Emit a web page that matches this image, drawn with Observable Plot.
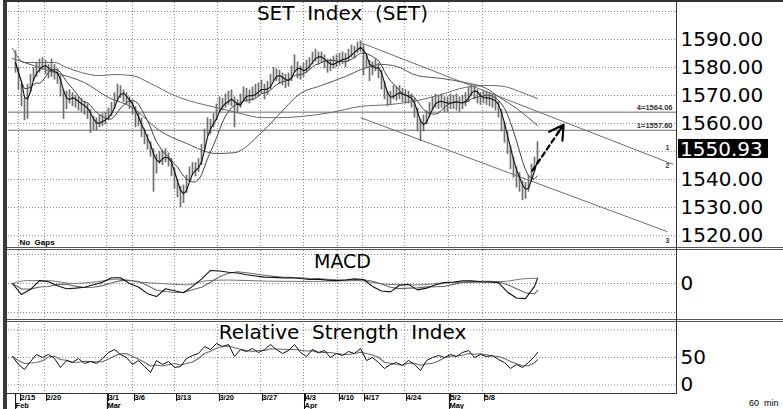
<!DOCTYPE html>
<html><head><meta charset="utf-8">
<script src="https://cdn.jsdelivr.net/npm/d3@7"></script>
<script src="https://cdn.jsdelivr.net/npm/@observablehq/plot@0.6"></script>
<style>
body{margin:0;background:#fff;}
#chart{position:relative;width:783px;height:409px;overflow:hidden;background:#fff;}
#chart svg{position:absolute;left:0;display:block;overflow:visible;}
#chart svg text{white-space:pre;}
.deco{position:absolute;background:#333;}
</style></head><body><div id="chart"></div>
<script>
// ---------- DATA ----------
const closeVals = [1581.8,1574.6,1568.2,1565.4,1572.5,1576.1,1578.2,1579.3,1580.4,1581.4,
1580.0,1578.2,1578.9,1578.6,1576.8,1571.8,1566.8,1568.9,1570.0,1568.6,
1567.9,1567.1,1566.4,1565.7,1564.6,1561.1,1559.6,1560.0,1560.7,1561.4,
1561.8,1563.2,1565.4,1568.2,1571.8,1571.1,1569.6,1568.6,1567.1,1565.4,
1561.1,1561.1,1557.1,1554.6,1552.9,1550.4,1543.9,1546.8,1547.9,1547.5,
1548.6,1546.8,1543.2,1538.9,1536.4,1533.2,1535.4,1539.6,1542.5,1543.9,
1543.6,1545.0,1550.4,1555.7,1559.3,1559.3,1561.1,1564.6,1566.8,1566.8,
1567.9,1568.9,1569.3,1565.4,1566.1,1568.2,1570.7,1570.0,1569.3,1570.4,
1571.4,1572.1,1572.9,1571.4,1572.5,1575.4,1577.5,1577.5,1576.4,1575.7,
1575.0,1575.4,1578.2,1581.8,1578.9,1578.2,1579.3,1580.4,1581.4,1583.6,
1584.6,1583.2,1583.6,1582.1,1580.4,1581.1,1581.8,1582.1,1582.9,1583.6,
1582.5,1584.6,1586.1,1585.4,1587.5,1588.6,1582.5,1582.5,1578.9,1579.6,
1581.1,1578.9,1574.3,1570.7,1568.2,1569.3,1571.4,1570.4,1571.1,1570.0,
1569.6,1569.3,1568.2,1564.6,1560.0,1558.2,1560.7,1562.5,1565.4,1567.5,
1568.2,1567.5,1568.2,1567.1,1566.8,1567.9,1567.9,1567.5,1567.1,1567.5,
1568.9,1570.7,1572.9,1571.4,1569.6,1568.9,1569.3,1569.3,1568.6,1568.2,
1567.5,1564.6,1559.6,1556.4,1551.4,1546.8,1543.2,1540.7,1538.6,1535.0,
1536.1,1539.6,1543.6,1545.7,1550.93];
const highVals = [1586.0,1580.0,1574.0,1569.0,1574.0,1577.5,1580.0,1581.5,1583.0,1583.5,
1582.5,1581.0,1583.0,1581.0,1579.5,1577.0,1572.0,1571.5,1572.0,1571.0,
1570.0,1569.5,1569.0,1568.0,1567.0,1565.0,1562.5,1562.0,1563.0,1563.5,
1564.0,1565.5,1567.5,1571.0,1574.0,1573.5,1572.0,1571.0,1569.5,1568.0,
1566.0,1564.0,1562.0,1558.0,1556.0,1553.5,1551.0,1549.0,1550.0,1550.5,
1551.0,1549.5,1547.5,1544.0,1540.0,1537.5,1538.0,1541.5,1544.5,1546.0,
1546.0,1547.5,1552.5,1558.0,1562.0,1561.5,1563.5,1567.0,1569.5,1569.0,
1570.5,1571.5,1572.0,1569.5,1568.5,1570.5,1573.0,1572.5,1572.0,1573.0,
1574.0,1574.5,1575.5,1574.0,1575.0,1577.5,1580.0,1579.5,1579.0,1578.0,
1577.5,1578.0,1580.5,1584.5,1582.0,1580.5,1581.5,1582.5,1583.5,1585.5,
1586.5,1585.5,1585.5,1584.5,1583.0,1583.0,1584.0,1584.5,1585.0,1585.5,
1585.0,1586.5,1588.0,1587.5,1589.0,1589.5,1588.0,1584.5,1582.5,1582.0,
1583.0,1581.5,1579.0,1575.0,1571.5,1571.5,1573.5,1573.0,1573.5,1572.5,
1572.0,1571.5,1570.5,1569.0,1565.5,1561.5,1563.0,1564.5,1567.5,1569.5,
1570.5,1570.0,1570.5,1569.5,1569.5,1570.5,1570.0,1570.5,1569.5,1570.0,
1571.0,1573.0,1574.0,1573.5,1572.0,1571.0,1571.5,1571.5,1571.0,1570.5,
1570.0,1568.0,1565.0,1560.5,1557.0,1552.0,1548.0,1544.5,1542.5,1539.5,
1539.0,1541.5,1545.5,1548.0,1553.5];
const lowVals = [1578.0,1572.0,1566.0,1561.0,1561.5,1571.0,1575.0,1576.5,1578.0,1579.0,
1577.5,1576.0,1576.5,1575.5,1574.0,1569.5,1561.5,1565.0,1567.0,1566.0,
1565.5,1564.5,1564.0,1563.0,1561.5,1556.5,1557.5,1557.5,1558.5,1559.0,
1559.5,1561.0,1562.5,1565.0,1568.0,1569.0,1567.5,1566.5,1565.0,1563.0,
1558.5,1559.0,1555.0,1552.5,1550.5,1548.0,1535.5,1542.0,1545.5,1545.0,
1546.0,1544.5,1541.0,1536.5,1533.5,1530.0,1531.5,1535.0,1539.0,1541.5,
1541.0,1542.5,1545.0,1550.5,1555.5,1556.0,1558.5,1561.0,1564.0,1564.5,
1565.5,1566.5,1566.0,1558.5,1563.5,1565.5,1568.0,1567.5,1567.0,1568.0,
1569.0,1569.5,1570.5,1568.5,1570.0,1572.0,1575.0,1575.0,1574.0,1573.5,
1572.5,1573.0,1575.0,1578.0,1576.0,1575.5,1576.5,1578.0,1579.0,1581.0,
1582.0,1581.0,1581.5,1579.5,1578.0,1578.5,1579.5,1580.0,1580.5,1581.0,
1580.0,1582.0,1583.5,1583.0,1585.0,1585.5,1577.0,1579.5,1575.0,1577.0,
1578.5,1576.0,1572.0,1568.5,1566.0,1566.5,1568.5,1568.0,1568.5,1567.5,
1567.0,1567.0,1565.5,1562.0,1557.0,1553.5,1557.0,1559.5,1562.0,1564.5,
1565.5,1565.0,1565.5,1564.0,1564.0,1565.0,1565.0,1564.5,1564.0,1565.0,
1566.0,1567.5,1569.5,1568.5,1567.0,1566.5,1567.0,1566.5,1566.0,1565.5,
1564.5,1562.0,1557.0,1553.0,1549.0,1543.5,1540.5,1537.0,1535.5,1532.5,
1533.0,1535.5,1539.5,1543.0,1546.5];

const maLongBars = [0,4,9,14,18,23,29,34,40,46,54,61,68,76,83,89,96,106,116,126,135,143,151,159,164,169,175];
const maLongVals = [1586.8,1581.8,1581.8,1581.8,1580.0,1578.2,1577.1,1577.5,1577.1,1574.3,1570.0,1567.5,1565.7,1563.6,1562.1,1562.1,1562.5,1563.9,1566.1,1566.8,1568.2,1570.4,1572.9,1573.6,1573.2,1571.4,1568.9];
const maMidBars = [0,7,14,24,32,40,49,58,68,74,83,91,95,103,111,117,123,128,135,143,151,158,162,168,175];
const maMidVals = [1583.2,1580.7,1578.2,1574.6,1569.3,1565.7,1557.5,1552.9,1549.3,1549.6,1556.8,1565.7,1570.0,1573.6,1576.8,1579.6,1581.1,1580.4,1577.1,1576.1,1574.6,1572.5,1569.6,1565.4,1559.3];

const levelVals = [1564.06, 1557.60];
const levelLabels = ["4=1564.06", "1=1557.60"];
const channelStartBar = [116, 116];
const channelStartVal = [1588.9, 1562.1];
const channelEndBar = [220.3, 218.3];
const channelEndVal = [1545.4, 1521.4];
const channelTags = ["1", "2", "3"];
const channelTagVals = [1551.4, 1545.0, 1518.2];
const arrowFrom = [173.3, 1543.2];
const arrowTo = [183.7, 1559.6];
const lastPrice = 1550.93;
const priceTicks = [1520, 1530, 1540, 1560, 1570, 1580, 1590];
const priceGrid = [1520, 1530, 1540, 1550, 1560, 1570, 1580, 1590, 1600];

const tickBars = [2, 10.7, 31.3, 40, 54, 68.3, 82.7, 97, 108.3, 116.7, 130.7, 145.3, 156.7];
const tickLabels = ["2/15","2/20","3/1","3/6","3/13","3/20","3/27","4/3","4/10","4/17","4/24","5/2","5/8"];
const monthBars = [0.7, 31.3, 97, 145.3];
const monthLabels = ["Feb","Mar","Apr","May"];

const macdVals = [0,-3.8,-2.0,1.0,0.6,-0.8,-1.8,-1.6,-1.3,-0.4,
 0.4,2.0,2.0,0.0,-1.2,-3.5,-4.5,-1.8,-2.5,-3.2,
 -1.0,1.5,4.5,4.3,3.9,3.6,3.0,2.6,2.2,2.1,
 1.9,2.0,1.7,1.4,1.5,1.1,1.0,1.2,1.6,1.4,
 -1.0,-2.6,-2.9,-0.6,-0.3,-2.2,-1.6,-0.4,0.3,0.5,
 0.9,0.9,0.6,0.5,0.3,-3.0,-5.0,-5.2,-1.0,1.7];
const macdFlatBars = [0,5,12,20,28,35,42,50,58,65,72,85,100,115,125,135,145,160,165,170,175];
const macdFlatVals = [0,1.0,1.0,0.0,0.6,1.5,0.5,0.0,-0.5,1.0,1.2,0.8,0.7,1.0,-0.3,-0.5,0.3,0.5,0.8,1.6,1.8];

const rsiVals = [51.8,37.3,28.2,42.7,55.5,50.0,55.5,48.2,31.8,44.5,
40.9,48.2,39.1,42.7,39.1,48.2,59.1,64.5,55.5,50.0,
37.3,44.5,33.6,22.7,44.5,37.3,42.7,31.8,33.6,48.2,
53.6,57.3,70.0,64.5,75.5,70.0,73.6,51.8,64.5,60.9,
66.4,59.1,64.5,73.6,64.5,57.3,62.7,73.6,59.1,51.8,
64.5,59.1,62.7,50.0,57.3,53.6,60.9,57.3,66.4,44.5,
50.0,40.9,30.0,37.3,40.9,35.5,44.5,37.3,26.4,44.5,
50.0,53.6,50.0,55.5,51.8,59.1,62.7,50.0,55.5,51.8,
53.6,46.4,40.9,30.0,37.3,31.8,40.9,51.8,59.1];

// ---------- TABLES ----------
const bars = closeVals.map((c, i) => ({bar: i + 1, close: c, high: highVals[i], low: lowVals[i]}));
const maLong = maLongBars.map((b, i) => ({bar: b, v: maLongVals[i]}));
const maMid = maMidBars.map((b, i) => ({bar: b, v: maMidVals[i]}));
const channels = channelStartBar.map((b, i) => ({b1: b, v1: channelStartVal[i], b2: channelEndBar[i], v2: channelEndVal[i]}));
const levels = levelVals.map((v, i) => ({v, label: levelLabels[i]}));
const tags = channelTags.map((t, i) => ({t, v: channelTagVals[i]}));
const arrowData = [{b1: arrowFrom[0], v1: arrowFrom[1], b2: arrowTo[0], v2: arrowTo[1]}];
const macdBarsIdx = [...d3.range(0, 175, 3), 175];
const macd = macdVals.map((v, i) => ({bar: macdBarsIdx[i], v}));
const macdFlat = macdFlatBars.map((b, i) => ({bar: b, v: macdFlatVals[i]}));
const rsiBarsIdx = [...d3.range(0, 175, 2), 175];
const rsi = rsiVals.map((v, i) => ({bar: rsiBarsIdx[i], v}));
const tickMap = new Map(tickBars.map((b, i) => [b, tickLabels[i]]));
const monthMap = new Map(monthBars.map((b, i) => [b, monthLabels[i]]));

// ---------- LAYOUT ----------
const W = 783, ML = 8, MR = 107;
const xDomain = [-1.333, 221.333];
const FONT = "DejaVu Sans, Verdana, sans-serif";
const SMALL = "Liberation Sans, Arial, sans-serif";
const grid = {stroke: "#8a8a8a", strokeOpacity: 1, strokeDasharray: "1,2"};
const baseStyle = {background: "transparent", fontFamily: FONT, color: "#000", overflow: "visible"};

const chart = document.getElementById("chart");
function place(svg, top) { svg.style.top = top + "px"; chart.appendChild(svg); }

// main price panel
const priceTag = (index, scales, values, dims) => {
  const y = scales.y(lastPrice);
  const x0 = dims.width - dims.marginRight + 2;
  const g = d3.create("svg:g");
  g.append("rect").attr("x", x0).attr("y", y - 9.5).attr("width", 90).attr("height", 19).attr("fill", "#000");
  g.append("text").attr("x", x0 + 2).attr("y", y).attr("dy", "0.36em").attr("fill", "#fff")
    .attr("text-anchor", "start").attr("font-size", 20).attr("font-family", FONT).text(lastPrice.toFixed(2));
  return g.node();
};

const main = Plot.plot({
  width: W, height: 249, marginLeft: ML, marginRight: MR, marginTop: 2, marginBottom: 1,
  x: {domain: xDomain, axis: null},
  y: {domain: [1515.4, 1603.2], axis: null},
  style: baseStyle,
  marks: [
    Plot.gridY(priceGrid, grid),
    Plot.gridX(tickBars, grid),
    Plot.ruleY(levels, {y: "v", stroke: "#6e6e6e", strokeWidth: 1}),
    Plot.link(channels, {x1: "b1", y1: "v1", x2: "b2", y2: "v2", stroke: "#6e6e6e", strokeWidth: 1}),
    Plot.line(maLong, {x: "bar", y: "v", curve: "monotone-x", stroke: "#6a6a6a", strokeWidth: 1}),
    Plot.line(maMid, {x: "bar", y: "v", curve: "monotone-x", stroke: "#555", strokeWidth: 1}),
    Plot.ruleX(bars, {x: "bar", y1: "low", y2: "high", stroke: "#707070", strokeWidth: 1.7}),
    Plot.line(bars, Plot.windowY({k: 8, anchor: "end"}, {x: "bar", y: "close", stroke: "#444", strokeWidth: 1})),
    Plot.line(bars, Plot.windowY({k: 3, anchor: "end"}, {x: "bar", y: "close", stroke: "#111", strokeWidth: 1.1})),
    Plot.arrow(arrowData, {x1: "b1", y1: "v1", x2: "b2", y2: "v2", stroke: "#000", strokeWidth: 2.2, strokeDasharray: "5,3.5", headLength: 0, insetEnd: 7}),
    Plot.arrow(arrowData, {x1: "b1", y1: "v1", x2: "b2", y2: "v2", stroke: "#000", strokeWidth: 2.2, headLength: 11, insetStart: 44}),
    Plot.text(levels, {y: "v", text: "label", frameAnchor: "right", textAnchor: "end", dx: -4, dy: -5, fontSize: 7.5, fontWeight: "bold", fontFamily: SMALL, fill: "#333"}),
    Plot.text(tags, {y: "v", text: "t", frameAnchor: "right", dx: -7, fontSize: 7, fontWeight: "bold", fontFamily: SMALL, fill: "#333"}),
    Plot.text(["SET  Index  (SET)"], {frameAnchor: "top", lineAnchor: "middle", dy: 11, fontSize: 20, fontFamily: FONT}),
    Plot.text(["No  Gaps"], {frameAnchor: "bottom-left", lineAnchor: "middle", dx: 11, dy: -6, textAnchor: "start", fontSize: 8, fontWeight: "bold", fontFamily: SMALL}),
    Plot.axisY(priceTicks, {anchor: "right", tickSize: 0, tickPadding: 4, fontSize: 20, fontFamily: FONT, tickFormat: d => d.toFixed(2), label: null}),
    priceTag
  ]
});
place(main, 0);

// MACD panel
const macdPlot = Plot.plot({
  width: W, height: 69, marginLeft: ML, marginRight: MR, marginTop: 0, marginBottom: 0,
  x: {domain: xDomain, axis: null},
  y: {domain: [-12.41, 11.38], axis: null},
  style: baseStyle,
  marks: [
    Plot.gridY([-10, 0, 10], grid),
    Plot.gridX(tickBars, grid),
    Plot.line(macdFlat, {x: "bar", y: "v", curve: "monotone-x", stroke: "#777", strokeWidth: 1}),
    Plot.line(macd, Plot.windowY({k: 4, anchor: "end"}, {x: "bar", y: "v", stroke: "#6a6a6a", strokeWidth: 1.1})),
    Plot.line(macd, {x: "bar", y: "v", stroke: "#111", strokeWidth: 1.1}),
    Plot.text(["MACD"], {frameAnchor: "top", lineAnchor: "middle", dy: 11, fontSize: 19, fontFamily: FONT}),
    Plot.axisY([0], {anchor: "right", tickSize: 0, tickPadding: 4, fontSize: 20, fontFamily: FONT, tickFormat: d => String(d), label: null})
  ]
});
place(macdPlot, 250);

// RSI panel + date axis
const rsiPlot = Plot.plot({
  width: W, height: 89, marginLeft: ML, marginRight: MR, marginTop: 1, marginBottom: 16,
  x: {domain: xDomain, axis: null},
  y: {domain: [-15.5, 115.5], axis: null},
  style: baseStyle,
  marks: [
    Plot.gridY([0, 50, 100], grid),
    Plot.gridX(tickBars, grid),
    Plot.line(rsi, Plot.windowY({k: 4, anchor: "end"}, {x: "bar", y: "v", stroke: "#6a6a6a", strokeWidth: 1.1})),
    Plot.line(rsi, {x: "bar", y: "v", stroke: "#111", strokeWidth: 1}),
    Plot.text(["Relative  Strength  Index"], {frameAnchor: "top", lineAnchor: "middle", dy: 11, fontSize: 20, fontFamily: FONT}),
    Plot.axisY([0, 50], {anchor: "right", tickSize: 0, tickPadding: 4, fontSize: 20, fontFamily: FONT, tickFormat: d => String(d), label: null}),
    Plot.axisX(tickBars, {anchor: "bottom", tickSize: 8, tickPadding: -6.5, tickFormat: d => tickMap.get(d), textAnchor: "start", dx: 2, fontSize: 7.5, fontWeight: "bold", fontFamily: SMALL, label: null}),
    Plot.axisX(monthBars, {anchor: "bottom", tickSize: 16, tickPadding: -7, tickFormat: d => monthMap.get(d), textAnchor: "start", dx: 1, fontSize: 7.5, fontWeight: "bold", fontFamily: SMALL, label: null}),
    Plot.text(["60  min"], {frameAnchor: "bottom-right", lineAnchor: "middle", dx: 102, dy: 10, textAnchor: "end", fontSize: 9, fontFamily: SMALL})
  ]
});
place(rsiPlot, 320);

// frame decorations
function deco(l, t, w, h, c) {
  const d = document.createElement("div");
  d.className = "deco";
  Object.assign(d.style, {left: l + "px", top: t + "px", width: w + "px", height: h + "px", background: c || "#333"});
  chart.appendChild(d);
}
deco(3, 0, 4, 409, "#3a3a3a");
deco(3, 0, 780, 2, "#333");
deco(7, 247, 776, 1, "#555");
deco(7, 249, 776, 1, "#555");
deco(7, 319, 776, 1, "#555");
deco(7, 321, 776, 1, "#555");
deco(7, 393, 669, 1, "#333");
deco(676, 0, 1, 394, "#333");
</script>
</body></html>
